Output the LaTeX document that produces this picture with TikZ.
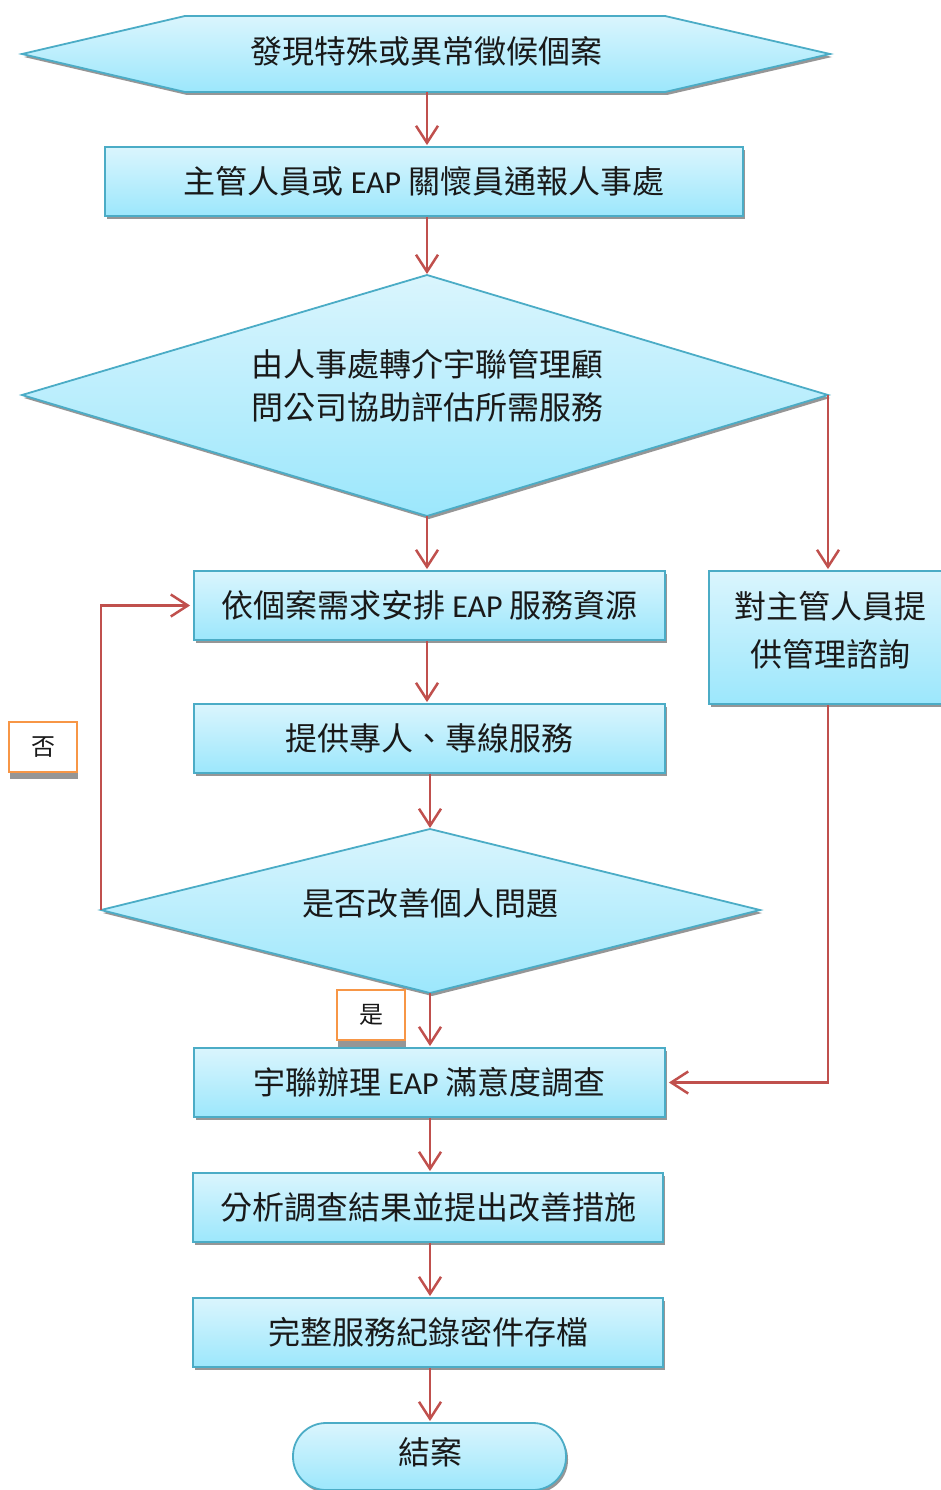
\documentclass[tikz,border=0pt]{standalone}
\usepackage{fontspec}
\setmainfont{Carlito}
\newfontfamily\cjk{Noto Sans CJK TC}
\newfontfamily\latinf{Carlito}
\usetikzlibrary{arrows.meta,shadows}
\definecolor{bordc}{RGB}{75,172,198}
\definecolor{topc}{RGB}{218,245,253}
\definecolor{botc}{RGB}{156,231,252}
\definecolor{arrc}{RGB}{192,80,77}
\definecolor{orc}{RGB}{247,150,70}
\definecolor{shc}{RGB}{150,150,150}
\definecolor{txtc}{RGB}{25,25,25}
\newcommand\eap{{\latinf EAP}}
\begin{document}
\begin{tikzpicture}[x=1pt,y=-1pt,
  shapebox/.style={draw=bordc,line width=1.8pt,top color=topc,bottom color=botc,
     drop shadow={shadow xshift=2pt,shadow yshift=-3pt,fill=shc,opacity=1}},
  procbox/.style={shapebox,rectangle,inner sep=0pt,text=txtc,
     font=\cjk\fontsize{32}{38}\selectfont},
  txt/.style={text=txtc,font=\cjk\fontsize{32}{43}\selectfont,align=center,inner sep=0pt},
  lab/.style={draw=orc,line width=1.8pt,fill=white,minimum width=68pt,minimum height=50pt,
     inner sep=0pt,text=txtc,font=\cjk\fontsize{24}{28}\selectfont,
     drop shadow={shadow xshift=1pt,shadow yshift=-7pt,fill=shc,opacity=1}},
  conn/.style={draw=arrc,line width=2.5pt,-{Straight Barb[length=17pt,width=22pt,line width=2.5pt]},shorten >=1pt}
]
\useasboundingbox (0,0) rectangle (941,1490);
\begin{scope}
\clip (0,0) rectangle (941,1490);

% hexagon
\coordinate (hexL) at (22,54);
\coordinate (hexR) at (830,54);
\coordinate (hexB) at (427,92);
\path[shapebox] (hexL) -- (185,16) -- (665,16) -- (hexR) -- (665,92) -- (185,92) -- cycle;
\node[txt] (hex) at (426,51) {發現特殊或異常徵候個案};

% box 1
\node[procbox,minimum width=638pt,minimum height=69pt] (b1) at (424,181.5) {主管人員或 \eap\ 關懷員通報人事處};

% diamond 1
\coordinate (d1L) at (22,395);
\coordinate (d1T) at (427,275);
\coordinate (d1R) at (828,395);
\coordinate (d1B) at (427,516);
\path[shapebox] (d1L) -- (d1T) -- (d1R) -- (d1B) -- cycle;
\node[txt] (d1) at (427,386) {由人事處轉介宇聯管理顧\\問公司協助評估所需服務};

% box 2
\node[procbox,minimum width=471pt,minimum height=69pt] (b2) at (429.5,605.5) {依個案需求安排 \eap\ 服務資源};

% right box
\node[shapebox,rectangle,inner sep=0pt,minimum width=238pt,minimum height=133pt] (rb) at (828,637.5) {};
\node[txt,font=\cjk\fontsize{32}{48}\selectfont] (rbt) at (830,630) {對主管人員提\\供管理諮詢};

% box 3
\node[procbox,minimum width=471pt,minimum height=69pt] (b3) at (429.5,738.5) {提供專人、專線服務};

% diamond 2
\coordinate (d2L) at (101,910);
\coordinate (d2T) at (430,829);
\coordinate (d2R) at (760,910);
\coordinate (d2B) at (430,993);
\path[shapebox] (d2L) -- (d2T) -- (d2R) -- (d2B) -- cycle;
\node[txt] (d2) at (430,903) {是否改善個人問題};

% box 4
\node[procbox,minimum width=471pt,minimum height=69pt] (b4) at (429.5,1082.5) {宇聯辦理 \eap\ 滿意度調查};

% box 5
\node[procbox,minimum width=470pt,minimum height=69pt] (b5) at (428,1207.5) {分析調查結果並提出改善措施};

% box 6
\node[procbox,minimum width=470pt,minimum height=69pt] (b6) at (428,1332.5) {完整服務紀錄密件存檔};

% terminal
\node[procbox,rounded corners=33pt,minimum width=273pt,minimum height=67pt] (end) at (429.5,1456.5) {};
\node[txt] (endt) at (430,1452) {結案};

% labels
\node[lab] (no) at (43,747) {否};
\node[lab] (yes) at (371,1015) {是};

% connectors
\draw[conn] (hexB) -- (hexB |- b1.north);
\draw[conn] (b1.south -| hexB) -- (d1T);
\draw[conn] (d1B) -- (d1B |- b2.north);
\draw[conn] (d1R) -- (d1R |- rb.north);
\draw[conn] (b2.south -| d1B) -- (d1B |- b3.north);
\draw[conn] (b3.south -| d2T) -- (d2T);
\draw[conn,shorten >=3pt] (d2L) |- (b2.west);
\draw[conn] (d2B) -- (d2B |- b4.north);
\draw[conn,shorten >=3pt] (rb.south) |- (b4.east);
\draw[conn] (b4.south -| d2B) -- (d2B |- b5.north);
\draw[conn] (b5.south -| d2B) -- (d2B |- b6.north);
\draw[conn] (b6.south -| d2B) -- (end.north -| d2B);
\end{scope}
\end{tikzpicture}
\end{document}
